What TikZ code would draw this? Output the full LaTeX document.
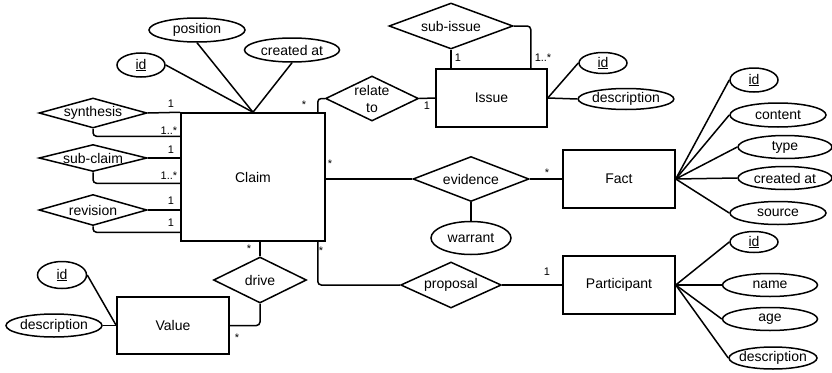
\documentclass[tikz,border=0pt]{standalone}
\usepackage{fontspec}
\setmainfont{Liberation Sans}
\usetikzlibrary{shapes.geometric}

\tikzset{
  entity/.style={draw, rectangle, inner sep=0pt, font=\fontsize{14}{17}\selectfont},
  relation/.style={draw, diamond, aspect=3.6, inner sep=0pt, font=\fontsize{14}{17}\selectfont},
  attr/.style={draw, ellipse, inner sep=0pt, font=\fontsize{14}{17}\selectfont},
  card/.style={inner sep=0pt, font=\fontsize{11}{12}\selectfont},
  elbow/.style={rounded corners=3.5pt},
}

\begin{document}
\begin{tikzpicture}[x=1pt, y=-1pt, line width=1.5pt]
\useasboundingbox (0,0) rectangle (832,372);

% entities
\node[entity, minimum width=144pt, minimum height=128pt] (claim) at (253,177) {Claim};
\node[entity, minimum width=111pt, minimum height=58pt] (issue) at (491.5,98) {Issue};
\node[entity, minimum width=112pt, minimum height=58pt] (fact) at (619,179) {Fact};
\node[entity, minimum width=112pt, minimum height=58pt] (participant) at (619,285) {Participant};
\node[entity, minimum width=112pt, minimum height=57pt] (value) at (173,325.5) {Value};

% relationships
\node[relation, minimum width=108pt, minimum height=30pt] (synthesis) at (93,113) {synthesis};
\node[relation, minimum width=108pt, minimum height=27pt] (subclaim) at (93,158) {sub-claim};
\node[relation, minimum width=108pt, minimum height=31pt] (revision) at (93,210) {revision};
\node[relation, aspect=2, inner sep=-4pt, align=center, minimum width=93pt, minimum height=45pt] (relateto) at (372,98.5) {relate\\to};
\node[relation, minimum width=124pt, minimum height=46pt] (subissue) at (451,26) {sub-issue};
\node[relation, minimum width=116pt, minimum height=45pt] (evidence) at (471,179) {evidence};
\node[relation, minimum width=94pt, minimum height=46pt] (proposal) at (451,285) {proposal};
\node[relation, minimum width=93pt, minimum height=46pt] (drive) at (260,280) {drive};

% attributes
\node[attr, minimum width=48pt, minimum height=24pt] (claimid) at (141,65) {\underline{id}};
\node[attr, minimum width=96pt, minimum height=24pt] (position) at (197,30) {position};
\node[attr, minimum width=95pt, minimum height=24pt] (createdat) at (292,50) {created at};
\node[attr, minimum width=48pt, minimum height=21pt] (issueid) at (603,63) {\underline{id}};
\node[attr, minimum width=95pt, minimum height=21pt] (issuedesc) at (626,99) {description};
\node[attr, minimum width=48pt, minimum height=24pt] (factid) at (754,80) {\underline{id}};
\node[attr, minimum width=96pt, minimum height=24pt] (content) at (778,115) {content};
\node[attr, minimum width=94pt, minimum height=23pt] (type) at (785,147) {type};
\node[attr, minimum width=94pt, minimum height=23pt] (factcreated) at (785,178) {created at};
\node[attr, minimum width=96pt, minimum height=23pt] (source) at (778,213) {source};
\node[attr, minimum width=80pt, minimum height=33pt] (warrant) at (471,238) {warrant};
\node[attr, minimum width=48pt, minimum height=21pt] (partid) at (754,242) {\underline{id}};
\node[attr, minimum width=95pt, minimum height=23pt] (name) at (770,285) {name};
\node[attr, minimum width=95pt, minimum height=23pt] (age) at (770,319) {age};
\node[attr, inner xsep=-6pt, minimum width=88pt, minimum height=22pt] (partdesc) at (773,358) {description};
\node[attr, minimum width=49pt, minimum height=27pt] (valueid) at (62,275) {\underline{id}};
\node[attr, minimum width=96pt, minimum height=23pt] (valuedesc) at (54,325.5) {description};

% claim links
\draw (claimid.east) -- (claim.north);
\draw (position.south) -- (claim.north);
\draw (createdat.south) -- (claim.north);
\draw (synthesis.east) -- (claim.north west);
\draw[elbow] (synthesis.south) |- ([yshift=-24pt]claim.north west);
\draw (subclaim.east) -- (subclaim.east -| claim.west);
\draw[elbow] (subclaim.south) |- ([yshift=-71pt]claim.north west);
\draw (revision.east) -- (revision.east -| claim.west);
\draw[elbow] (revision.south) |- ([yshift=-120pt]claim.north west);
\draw[elbow] ([xshift=-8pt]claim.north east) |- (relateto.west);
\draw (relateto.east) -- (issue.west);
\draw (evidence.west) -- (evidence.west -| claim.east);
\draw[elbow] ([xshift=-8pt]claim.south east) |- (proposal.west);
\draw (drive.north) -- (drive.north |- claim.south);
\draw[elbow] (drive.south) |- (value.east);

% issue links
\draw (subissue.south) -- (subissue.south |- issue.north);
\draw[elbow] (subissue.east) -| ([xshift=-17pt]issue.north east);
\draw (issue.east) -- (issueid.west);
\draw (issue.east) -- (issuedesc.west);

% fact links
\draw (evidence.east) -- (fact.west);
\draw (evidence.south) -- (warrant.north);
\draw (fact.east) -- (factid.west);
\draw (fact.east) -- (content.west);
\draw (fact.east) -- (type.west);
\draw (fact.east) -- (factcreated.west);
\draw (fact.east) -- (source.west);

% participant links
\draw (proposal.east) -- (participant.west);
\draw (participant.east) -- (partid.west);
\draw (participant.east) -- (name.west);
\draw (participant.east) -- (age.west);
\draw (participant.east) -- (partdesc.west);

% value links
\draw (valueid.east) -- (value.west);
\draw (valuedesc.east) -- (value.west);

% cardinalities
\node[card] (c1) at (171,104) {1};
\node[card, anchor=east] (c2) at (178,131) {1..*};
\node[card] (c3) at (171,150) {1};
\node[card, anchor=east] (c4) at (178,176) {1..*};
\node[card] (c5) at (171,201) {1};
\node[card] (c6) at (171,223) {1};
\node[card] (c7) at (304,105) {*};
\node[card] (c8) at (427,106) {1};
\node[card] (c9) at (458,58) {1};
\node[card, anchor=west] (c10) at (534,58) {1..*};
\node[card] (c11) at (330,164) {*};
\node[card] (c12) at (547,173) {*};
\node[card] (c13) at (547,272) {1};
\node[card] (c14) at (249,249) {*};
\node[card] (c15) at (321,251) {*};
\node[card] (c16) at (237,338) {*};

\end{tikzpicture}
\end{document}
